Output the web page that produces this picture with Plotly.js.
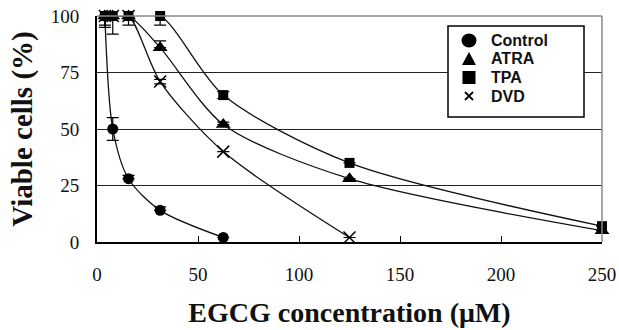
<!DOCTYPE html>
<html>
<head>
<meta charset="utf-8">
<script src="https://cdn.plot.ly/plotly-3.0.1.min.js"></script>
<style>html,body{margin:0;padding:0;background:#fff;}#chart{width:619px;height:330px;}</style>
</head>
<body>
<div id="chart"></div>
<script>
const seriesNames = ["Control", "ATRA", "TPA", "DVD"];
const controlX = [3.9, 7.8, 15.6, 31.25, 62.5];
const controlY = [100, 50, 28, 14, 2];
const controlErrPlus = [0, 5, 1.5, 1.5, 0];
const controlErrMinus = [5, 5, 0, 0, 0];
const atraX = [3.9, 7.8, 15.6, 31.25, 62.5, 125, 250];
const atraY = [100, 100, 100, 86, 52, 28, 5];
const atraErrPlus = [0, 0, 0, 3, 1, 0, 0];
const atraErrMinus = [0, 0, 4, 0, 0, 0, 0];
const tpaX = [3.9, 7.8, 15.6, 31.25, 62.5, 125, 250];
const tpaY = [100, 100, 100, 100, 65, 35, 7];
const tpaErrPlus = [0, 0, 0, 0, 1.5, 0, 0];
const tpaErrMinus = [4, 8, 0, 4, 1.5, 0, 0];
const dvdX = [3.9, 7.8, 15.6, 31.25, 62.5, 125];
const dvdY = [100, 100, 100, 71, 40, 2];
const dvdErrPlus = [0, 0, 0, 1, 0, 0];
const dvdErrMinus = [0, 0, 0, 1, 0, 0];
const xTicks = [0, 50, 100, 150, 200, 250];
const yTicks = [0, 25, 50, 75, 100];

const xs = [controlX, atraX, tpaX, dvdX];
const ys = [controlY, atraY, tpaY, dvdY];
const eps = [controlErrPlus, atraErrPlus, tpaErrPlus, dvdErrPlus];
const ems = [controlErrMinus, atraErrMinus, tpaErrMinus, dvdErrMinus];
const symbols = ["circle", "triangle-up", "square", "x-thin"];
const sizes = [11, 13, 10, 12];

const traces = [];
for (let i = 0; i < 4; i++) {
  traces.push({
    x: xs[i], y: ys[i], mode: "lines", type: "scatter",
    line: {shape: "spline", smoothing: 0.8, color: "#111", width: 1.3},
    showlegend: false, hoverinfo: "skip", cliponaxis: false
  });
}
for (let i = 0; i < 4; i++) {
  traces.push({
    x: xs[i], y: ys[i], mode: "markers", type: "scatter", name: seriesNames[i],
    showlegend: false,
    marker: {symbol: symbols[i], size: sizes[i], color: "#000",
             line: {color: "#000", width: i === 3 ? 1.5 : 0}},
    error_y: {type: "data", symmetric: false, array: eps[i], arrayminus: ems[i],
              color: "#000", thickness: 1.2, width: 6},
    cliponaxis: false
  });
}

// plot area geometry in pixels (for the legend box)
const W = 619, H = 330, mL = 97, mR = 17, mT = 16, mB = 88;
const pw = W - mL - mR, ph = H - mT - mB;
const px = v => (v - mL) / pw;
const py = v => (H - mB - v) / ph;

const rowY = [40.5, 59, 77.5, 96];
const gx = 469;
const annotations = [];
for (let i = 0; i < 4; i++) {
  annotations.push({
    xref: "paper", yref: "paper", x: px(489), y: py(rowY[i]), xanchor: "left", yanchor: "middle",
    text: "<b>" + seriesNames[i] + "</b>", showarrow: false,
    font: {family: "Liberation Sans, Arial, sans-serif", size: 16, color: "#111"}
  });
}

const legendShapes = [
  {type: "rect", xref: "paper", yref: "paper", x0: px(448), x1: px(584), y0: py(117), y1: py(26),
   line: {color: "#000", width: 1.5}, fillcolor: "#fff", layer: "above"},
  {type: "circle", xref: "paper", yref: "paper", x0: px(gx - 7.5), x1: px(gx + 7.5),
   y0: py(rowY[0] + 7), y1: py(rowY[0] - 7), line: {width: 0}, fillcolor: "#000", layer: "above"},
  {type: "path", xref: "paper", yref: "paper", layer: "above", fillcolor: "#000", line: {width: 0},
   path: "M " + px(gx - 7) + " " + py(rowY[1] + 6) + " L " + px(gx + 7) + " " + py(rowY[1] + 6) +
         " L " + px(gx) + " " + py(rowY[1] - 7) + " Z"},
  {type: "rect", xref: "paper", yref: "paper", x0: px(gx - 6.5), x1: px(gx + 6.5),
   y0: py(rowY[2] + 6.5), y1: py(rowY[2] - 6.5), line: {width: 0}, fillcolor: "#000", layer: "above"},
  {type: "line", xref: "paper", yref: "paper", x0: px(gx - 4), x1: px(gx + 4),
   y0: py(rowY[3] + 4), y1: py(rowY[3] - 4), line: {color: "#000", width: 1.8}, layer: "above"},
  {type: "line", xref: "paper", yref: "paper", x0: px(gx - 4), x1: px(gx + 4),
   y0: py(rowY[3] - 4), y1: py(rowY[3] + 4), line: {color: "#000", width: 1.8}, layer: "above"}
];

const layout = {
  width: W, height: H,
  margin: {l: mL, r: mR, t: mT, b: mB},
  paper_bgcolor: "#fff", plot_bgcolor: "#fff",
  showlegend: false,
  xaxis: {
    range: [0, 250], tickvals: xTicks,
    ticks: "inside", ticklen: 6, tickcolor: "#000", ticklabelstandoff: 14,
    showline: true, linecolor: "#000", linewidth: 2, mirror: false,
    showgrid: false, zeroline: false,
    tickfont: {family: "Liberation Serif, Times New Roman, serif", size: 19, color: "#111"},
    title: {text: "EGCG concentration (μM)", standoff: 19,
            font: {family: "Liberation Serif, Times New Roman, serif", size: 28, color: "#111", weight: "bold"}}
  },
  yaxis: {
    range: [0, 100], tickvals: yTicks,
    ticks: "", showline: true, linecolor: "#000", linewidth: 2, ticklabelstandoff: 12,
    showgrid: true, gridcolor: "#222", gridwidth: 1, zeroline: false,
    tickfont: {family: "Liberation Serif, Times New Roman, serif", size: 19, color: "#111"},
    title: {text: "Viable cells (%)", standoff: 10,
            font: {family: "Liberation Serif, Times New Roman, serif", size: 29, color: "#111", weight: "bold"}}
  },
  annotations: annotations,
  shapes: [
    {type: "line", xref: "paper", yref: "paper", x0: 0, x1: 1, y0: 1, y1: 1, line: {color: "#888", width: 1.5}},
    {type: "line", xref: "paper", yref: "paper", x0: 1, x1: 1, y0: 0, y1: 1, line: {color: "#888", width: 1.5}}
  ].concat(legendShapes)
};

Plotly.newPlot("chart", traces, layout, {displayModeBar: false, staticPlot: true});
</script>
</body>
</html>
